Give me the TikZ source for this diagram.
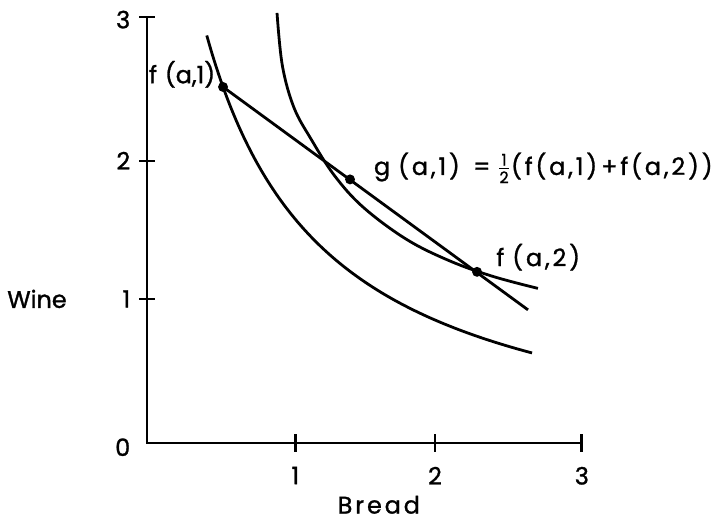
\documentclass[tikz,border=0pt]{standalone}
\usepackage{amsmath}
\usepackage{fontspec}
\setmainfont{Poppins}[FakeBold=1.2]
\newfontfamily\widefont{Poppins}[LetterSpace=12,FakeBold=1.2]
\usetikzlibrary{calc}
\begin{document}
\begin{tikzpicture}[x=1in,y=1in,
  every node/.style={font=\fontsize{12}{14}\selectfont, inner sep=1pt},
  wide/.style={font=\fontsize{12}{14}\widefont},
  axis/.style={line width=1.4pt},
  curve/.style={line width=1.4pt},
  dot/.style={circle, fill=black, inner sep=0pt, minimum size=5pt}]
\useasboundingbox (-1.021,-0.535) rectangle (4.035,3.076);
% axes
\coordinate (O) at (0,0);
\coordinate (ytop) at (0,2.958);
\coordinate (xend) at (3.02,0);
\draw[axis] (ytop) -- (O) -- (xend);
\foreach \v/\yy in {1/1.0,2/1.958,3/2.958} {
  \draw[axis] (-0.055,\yy) -- (0.055,\yy);
}
\foreach \v/\xx in {1/1.03,2/2.0,3/3.02} {
  \draw[axis] (\xx,-0.06) -- (\xx,0.06);
  \node[anchor=north] (xl\v) at (\xx,-0.15) {\v};
}
\node[anchor=east] (yl3) at (-0.1,2.94) {3};
\node[anchor=east] (yl2) at (-0.1,1.96) {2};
\node[anchor=east] (yl1) at (-0.1,1.0) {1};
\node[anchor=east] (yl0) at (-0.1,-0.03) {0};
\node[wide] (xlab) at (1.61,-0.43) {Bread};
\node (ylab) at (-0.764,1.0) {Wine};
% indifference curves
\draw[curve] plot[domain=0.415:2.674, samples=80, smooth] (\x, {-0.2+2.56/(\x+0.43)});
\draw[curve] plot[smooth, tension=0.6] coordinates {(0.903,2.986) (0.94,2.62) (1.02,2.33) (1.14,2.109) (1.3,1.859) (1.5,1.638) (1.8,1.415) (2.1,1.265) (2.4,1.157) (2.715,1.073)};
% points and chord
\node[dot] (f1) at (0.528,2.472) {};
\node[dot] (f2) at (2.292,1.188) {};
\node[dot] (g) at ($(f1)!0.5!(f2)$) {};
\coordinate (lend) at (2.646,0.924);
\draw[line width=1.4pt] (f1.center) -- (lend);
\node[anchor=east] (lf1) at (0.49,2.56) {f\,\,(a,1)};
\node[anchor=west, wide] (lf2) at (2.41,1.29) {f\,\,(a,2)};
\node[anchor=west, wide] (lg) at (1.56,1.91) {g\,\,(a,1)\;\;=\;$\frac{\text{\widefont 1}}{\text{\widefont 2}}$(f(a,1)\,+f(a,2))};
\end{tikzpicture}
\end{document}
